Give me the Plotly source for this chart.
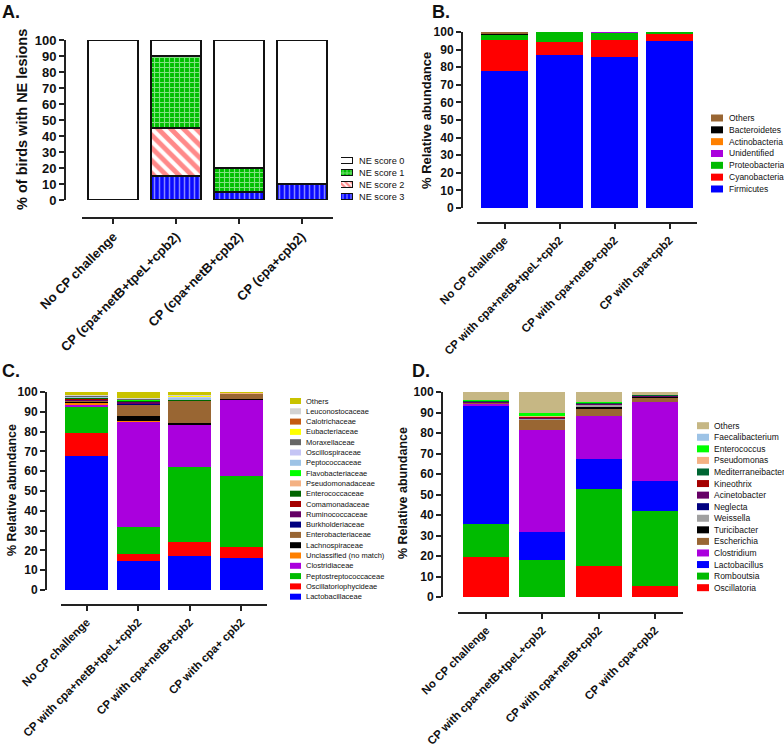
import plotly.graph_objects as go

W, H = 784, 748
FONT = "Liberation Sans"

# ---------------- Panel A data ----------------
cats_a = ["No CP challenge", "CP (cpa+netB+tpeL+cpb2)", "CP (cpa+netB+cpb2)", "CP (cpa+cpb2)"]
ne_score_3 = [0, 15, 5, 10]
ne_score_2 = [0, 30, 0, 0]
ne_score_1 = [0, 45, 15, 0]
ne_score_0 = [100, 10, 80, 90]

# ---------------- Panel B data (phyla) ----------------
cats_b = ["No CP challenge", "CP with cpa+netB+tpeL+cpb2", "CP with cpa+netB+cpb2", "CP with cpa+cpb2"]
b_firmicutes = [78, 87, 86, 95]
b_cyanobacteria = [17.5, 7.5, 9.5, 4]
b_proteobacteria = [2.8, 5.5, 4, 1]
b_unidentified = [0.3, 0, 0.5, 0]
b_actinobacteria = [0.1, 0, 0, 0]
b_bacteroidetes = [0.1, 0, 0, 0]
b_others = [1.2, 0, 0, 0]

# ---------------- Panel C data (families) ----------------
cats_c = ["No CP challenge", "CP with cpa+netB+tpeL+cpb2", "CP with cpa+netB+cpb2", "CP with cpa+ cpb2"]
c_lactobacillaceae = [67.5, 14.5, 17, 16]
c_oscillatoriophycideae = [12, 3.5, 7, 5.5]
c_peptostreptococcaceae = [13, 14, 38, 36]
c_clostridiaceae = [1.3, 53, 21.5, 38.5]
c_unclassified = [1.0, 0.6, 0.2, 0.1]
c_lachnospiraceae = [0.3, 2.2, 0.8, 0.4]
c_enterobacteriaceae = [0.4, 6, 11, 2.7]
c_burkholderiaceae = [0.2, 0.3, 0.1, 0]
c_ruminococcaceae = [0.6, 1.0, 0.2, 0.1]
c_comamonadaceae = [0.2, 0.2, 0.1, 0]
c_enterococcaceae = [0.7, 0.5, 0.2, 0]
c_pseudomonadaceae = [0.1, 0.1, 0.2, 0.6]
c_flavobacteriaceae = [0.1, 0.1, 0.1, 0]
c_peptococcaceae = [0.2, 0.2, 0.7, 0]
c_oscillospiraceae = [0.2, 0.2, 0.5, 0]
c_moraxellaceae = [0.3, 0.3, 0.2, 0]
c_eubacteriaceae = [0.1, 0.1, 0.4, 0]
c_calotrichaceae = [0.1, 0.1, 0.1, 0]
c_leuconostocaceae = [0.2, 0.2, 0.2, 0]
c_others = [1.5, 2.9, 1.5, 0.1]

# ---------------- Panel D data (genera) ----------------
cats_d = ["No CP challenge", "CP with cpa+netB+tpeL+cpb2", "CP with cpa+netB+cpb2", "CP with cpa+cpb2"]
d_oscillatoria = [19.5, 0, 15, 5.5]
d_romboutsia = [16, 18, 37.5, 36.5]
d_lactobacillus = [57.5, 13.5, 14.8, 14.5]
d_clostridium = [1.5, 50, 21.2, 38.5]
d_escherichia = [0.2, 5, 3.5, 2.5]
d_turicibacter = [0.1, 0.2, 0.7, 0.1]
d_weissella = [0.1, 0.2, 1.0, 0.3]
d_neglecta = [0.1, 0.1, 0.2, 0.1]
d_acinetobacter = [0.2, 0.8, 0.5, 0.5]
d_kineothrix = [0.1, 0.2, 0.1, 0]
d_mediterraneibacter = [0.4, 0.2, 0.2, 0.1]
d_pseudomonas = [0, 0.1, 0, 0]
d_enterococcus = [0.2, 1.5, 0.5, 0]
d_faecalibacterium = [0, 0, 0.1, 0]
d_others = [4.1, 10.2, 4.7, 1.4]

y_ticks = [0, 10, 20, 30, 40, 50, 60, 70, 80, 90, 100]


def px(x):
    return x / W


def py(y):
    return 1 - y / H


def nz(vals):
    return [v if v else None for v in vals]


fig = go.Figure()

# ---------- Panel A bars ----------
a_series = [
    ("NE score 3", ne_score_3, "#0000ff", dict(shape="|", fgcolor="white", bgcolor="#0a0aff", size=5, solidity=0.3)),
    ("NE score 2", ne_score_2, "#ff2a2a", dict(shape="\\", fgcolor="#ff1414", bgcolor="white", size=9, solidity=0.55)),
    ("NE score 1", ne_score_1, "#00c000", dict(shape="+", fgcolor="white", bgcolor="#00c000", size=5, solidity=0.4)),
    ("NE score 0", ne_score_0, "white", None),
]
for name, vals, color, pat in a_series:
    mk = dict(color=color, line=dict(color="#111", width=2))
    if pat:
        mk["pattern"] = pat
    fig.add_trace(go.Bar(x=cats_a, y=nz(vals), name=name, xaxis="x", yaxis="y",
                         width=0.8, marker=mk, showlegend=False))

# Panel A legend swatches (on a hidden helper axis)
for i, (name, vals, color, pat) in enumerate(a_series):
    mk = dict(color=color, line=dict(color="#111", width=1))
    if pat:
        p = dict(pat)
        p["size"] = 4
        mk["pattern"] = p
    fig.add_trace(go.Bar(x=[1], y=[i], orientation="h", xaxis="x5", yaxis="y5",
                         width=0.55, marker=mk, showlegend=False, hoverinfo="skip"))


def add_stack(cats, series, ax, width):
    for name, vals, color in series:
        fig.add_trace(go.Bar(x=cats, y=vals, name=name, xaxis="x" + ax, yaxis="y" + ax,
                             width=width, marker=dict(color=color, line=dict(width=0)),
                             showlegend=False))


b_series = [
    ("Firmicutes", b_firmicutes, "#0000ff"),
    ("Cyanobacteria", b_cyanobacteria, "#ff0000"),
    ("Proteobacteria", b_proteobacteria, "#00bb00"),
    ("Unidentified", b_unidentified, "#aa00dd"),
    ("Actinobacteria", b_actinobacteria, "#ff8000"),
    ("Bacteroidetes", b_bacteroidetes, "#000000"),
    ("Others", b_others, "#996633"),
]
c_series = [
    ("Lactobacillaceae", c_lactobacillaceae, "#0000ff"),
    ("Oscillatoriophycideae", c_oscillatoriophycideae, "#ff0000"),
    ("Peptostreptococcaceae", c_peptostreptococcaceae, "#00bb00"),
    ("Clostridiaceae", c_clostridiaceae, "#aa00dd"),
    ("Unclassified (no match)", c_unclassified, "#ff8000"),
    ("Lachnospiraceae", c_lachnospiraceae, "#000000"),
    ("Enterobacteriaceae", c_enterobacteriaceae, "#996633"),
    ("Burkholderiaceae", c_burkholderiaceae, "#000080"),
    ("Ruminococcaceae", c_ruminococcaceae, "#660066"),
    ("Comamonadaceae", c_comamonadaceae, "#a50000"),
    ("Enterococcaceae", c_enterococcaceae, "#006400"),
    ("Pseudomonadaceae", c_pseudomonadaceae, "#f4b183"),
    ("Flavobacteriaceae", c_flavobacteriaceae, "#00ff00"),
    ("Peptococcaceae", c_peptococcaceae, "#9dc3e6"),
    ("Oscillospiraceae", c_oscillospiraceae, "#c5c5f5"),
    ("Moraxellaceae", c_moraxellaceae, "#666666"),
    ("Eubacteriaceae", c_eubacteriaceae, "#ffff00"),
    ("Calotrichaceae", c_calotrichaceae, "#c55a11"),
    ("Leuconostocaceae", c_leuconostocaceae, "#d3d3d3"),
    ("Others", c_others, "#c9c300"),
]
d_series = [
    ("Oscillatoria", d_oscillatoria, "#ff0000"),
    ("Romboutsia", d_romboutsia, "#00bb00"),
    ("Lactobacillus", d_lactobacillus, "#0000ff"),
    ("Clostridium", d_clostridium, "#aa00dd"),
    ("Escherichia", d_escherichia, "#996633"),
    ("Turicibacter", d_turicibacter, "#000000"),
    ("Weissella", d_weissella, "#a0a0a0"),
    ("Neglecta", d_neglecta, "#000080"),
    ("Acinetobacter", d_acinetobacter, "#660066"),
    ("Kineothrix", d_kineothrix, "#a50000"),
    ("Mediterraneibacter", d_mediterraneibacter, "#006633"),
    ("Pseudomonas", d_pseudomonas, "#f4b183"),
    ("Enterococcus", d_enterococcus, "#00ff00"),
    ("Faecalibacterium", d_faecalibacterium, "#9dc3e6"),
    ("Others", d_others, "#c6b784"),
]
add_stack(cats_b, b_series, "2", 0.84)
add_stack(cats_c, c_series, "3", 0.835)
add_stack(cats_d, d_series, "4", 0.82)


def xax(x0, x1, ypos, fs):
    return dict(domain=[px(x0), px(x1)], anchor="free", position=py(ypos), range=[-0.5, 3.5],
                showline=True, linecolor="#222", linewidth=2, ticks="outside", ticklen=5,
                tickwidth=2, tickcolor="#222", tickangle=-45, showgrid=False, zeroline=False,
                tickfont=dict(family=FONT, size=fs, color="#111", weight="bold"),
                automargin=False, fixedrange=True)


def yax(y0, y1, xpos, fs):
    return dict(domain=[py(y0), py(y1)], anchor="free", position=px(xpos), range=[0, 100],
                tickvals=y_ticks, showline=True, linecolor="#222", linewidth=2, ticks="outside",
                ticklen=5, tickwidth=2, tickcolor="#222", showgrid=False, zeroline=False,
                tickfont=dict(family=FONT, size=fs, color="#111", weight="bold"),
                automargin=False, fixedrange=True)


shapes = []
annotations = []


def text(t, x, y, size, bold=False, xanchor="left", yanchor="middle", angle=0, color="#111"):
    annotations.append(dict(text=("<b>%s</b>" % t) if bold else t, x=px(x), y=py(y),
                            xref="paper", yref="paper", xanchor=xanchor, yanchor=yanchor,
                            showarrow=False, textangle=angle, borderpad=0,
                            font=dict(family=FONT, size=size, color=color)))


def legend_block(series, x0, x1, y_first, step, sw_h, tx, fs):
    for i, (name, vals, color) in enumerate(reversed(series)):
        yc = y_first + step * i
        shapes.append(dict(type="rect", xref="paper", yref="paper", x0=px(x0), x1=px(x1),
                           y0=py(yc + sw_h / 2), y1=py(yc - sw_h / 2), fillcolor=color,
                           line=dict(width=0)))
        text(name, tx, yc, fs)


legend_block(b_series, 711, 723, 118, 11.83, 7, 728, 8.5)
legend_block(c_series, 290, 301, 401, 10.3, 6, 305, 7.5)
legend_block(d_series, 697, 709, 425.7, 11.57, 7, 713, 8.5)

for i, (name, vals, color, pat) in enumerate(a_series):
    text(name, 358, 197 - 12 * i, 9.2)

# axis titles
text("% of birds with NE lesions", 22, 120, 14.5, bold=True, xanchor="center", angle=-90)
text("% Relative abundance", 427, 120, 13, bold=True, xanchor="center", angle=-90)
text("% Relative abundance", 12, 490, 12.5, bold=True, xanchor="center", angle=-90)
text("% Relative abundance", 403, 493, 12.5, bold=True, xanchor="center", angle=-90)

# panel letters
text("A.", 1, 12, 18, bold=True)
text("B.", 431, 12, 18, bold=True)
text("C.", 1, 371, 18, bold=True)
text("D.", 411, 371, 18, bold=True)

fig.update_layout(
    width=W, height=H, margin=dict(l=0, r=0, t=0, b=0),
    paper_bgcolor="white", plot_bgcolor="rgba(0,0,0,0)",
    barmode="stack", bargap=0, showlegend=False,
    font=dict(family=FONT, color="#111"),
    xaxis=xax(82, 333, 218, 13), yaxis=yax(200, 40, 65, 13),
    xaxis2=xax(477, 697, 223, 11.5), yaxis2=yax(208, 32, 462, 12),
    xaxis3=xax(61, 267, 605, 11.5), yaxis3=yax(590, 392, 46, 12),
    xaxis4=xax(458, 683, 613, 11.5), yaxis4=yax(597, 392, 442, 12),
    xaxis5=dict(domain=[px(341), px(353)], anchor="y5", range=[0, 1], visible=False, fixedrange=True),
    yaxis5=dict(domain=[py(203), py(155)], anchor="x5", range=[-0.5, 3.5], visible=False, fixedrange=True),
    shapes=shapes, annotations=annotations,
)

fig.write_html("out.html", config={"displayModeBar": False},
               post_script="document.body.style.margin='0';document.body.style.overflow='hidden';")
